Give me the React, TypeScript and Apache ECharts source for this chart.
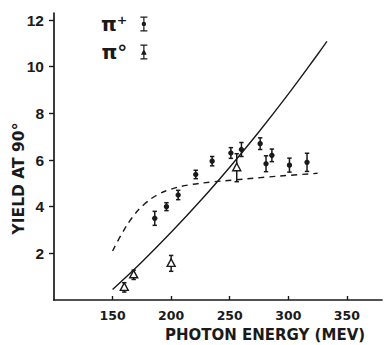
import React, { useEffect, useRef } from "react";
import * as echarts from "echarts";

// π+ data (photon energy MeV, yield, error)
const piPlusEnergy = [186, 196, 206, 221, 235, 251, 260, 276, 281, 286, 301, 316];
const piPlusYield = [3.5, 4.0, 4.5, 5.38, 5.95, 6.3, 6.45, 6.7, 5.84, 6.2, 5.78, 5.9];
const piPlusErr = [0.3, 0.17, 0.2, 0.18, 0.2, 0.23, 0.3, 0.25, 0.34, 0.27, 0.3, 0.39];

// π0 data
const piZeroEnergy = [160, 168, 200, 256];
const piZeroYield = [0.54, 1.08, 1.57, 5.67];
const piZeroErr = [0.2, 0.2, 0.34, 0.6];

// theory curves
const solidEnergy = [150, 175, 200, 225, 250, 275, 300, 325, 333];
const solidYield = [0.45, 1.63, 2.9, 4.25, 5.69, 7.21, 8.82, 10.52, 11.08];
const dashedEnergy = [150, 158, 167, 177, 188, 200, 215, 235, 255, 280, 300, 325];
const dashedYield = [2.1, 2.85, 3.55, 4.1, 4.5, 4.75, 4.93, 5.06, 5.15, 5.26, 5.34, 5.43];

const xTicks = [150, 200, 250, 300, 350];
const yTicks = [2, 4, 6, 8, 10, 12];

const INK = "#1a1a1a";

const plusIcon =
  "path://M0,0H7V1.3H0Z M2.9,0H4.1V15H2.9Z M0,13.7H7V15H0Z M1.3,7.5A2.2,2.2,0,1,1,5.7,7.5A2.2,2.2,0,1,1,1.3,7.5Z";
const zeroIcon =
  "path://M0,0H7V1.3H0Z M2.9,0H4.1V15H2.9Z M0,13.7H7V15H0Z M3.5,4.2L6.3,10.2H0.7Z";

function makeRender(kind: "circle" | "triangle") {
  return (_params: any, api: any) => {
    const x = api.value(0);
    const y = api.value(1);
    const e = api.value(2);
    const c = api.coord([x, y]);
    const t = api.coord([x, y + e]);
    const b = api.coord([x, y - e]);
    const cap = 2.2;
    const ls = { stroke: INK, lineWidth: 1.5 };
    const children: any[] = [
      { type: "line", shape: { x1: c[0], y1: t[1], x2: c[0], y2: b[1] }, style: ls },
      { type: "line", shape: { x1: c[0] - cap, y1: t[1], x2: c[0] + cap, y2: t[1] }, style: ls },
      { type: "line", shape: { x1: c[0] - cap, y1: b[1], x2: c[0] + cap, y2: b[1] }, style: ls },
    ];
    if (kind === "circle") {
      children.push({ type: "circle", shape: { cx: c[0], cy: c[1], r: 2.7 }, style: { fill: INK } });
    } else {
      children.push({
        type: "polygon",
        shape: {
          points: [
            [c[0], c[1] - 4.5],
            [c[0] - 4, c[1] + 3],
            [c[0] + 4, c[1] + 3],
          ],
        },
        style: { fill: "#ffffff", stroke: INK, lineWidth: 1.4 },
      });
    }
    return { type: "group", children };
  };
}

export default function App() {
  const ref = useRef<HTMLDivElement>(null);
  useEffect(() => {
    if (!ref.current) return;
    const chart = echarts.init(ref.current, null, { renderer: "svg" });
    const font = "DejaVu Sans";
    chart.setOption({
      animation: false,
      backgroundColor: "#ffffff",
      grid: { left: 54, right: 3, top: 13, bottom: 45, outerBoundsMode: "none", containLabel: false },
      legend: {
        orient: "vertical",
        left: 96,
        top: 9,
        align: "right",
        itemWidth: 7,
        itemHeight: 15,
        itemGap: 8,
        data: [
          { name: "π⁺", icon: plusIcon },
          { name: "π°", icon: zeroIcon },
        ],
        textStyle: { fontFamily: font, fontSize: 20, fontWeight: "bold", color: INK, padding: [0, 8, 0, 0] },
      },
      xAxis: {
        type: "value",
        min: 100,
        max: 380,
        name: "PHOTON ENERGY (MEV)",
        nameLocation: "middle",
        nameGap: 27,
        nameMoveOverlap: false,
        nameTextStyle: { fontFamily: font, fontSize: 15, fontWeight: "bold", color: INK, padding: [0, 0, 0, 94] },
        splitLine: { show: false },
        axisLine: { lineStyle: { color: INK, width: 1.7 } },
        axisTick: { inside: true, length: 4, customValues: xTicks, lineStyle: { color: INK, width: 1.4 } },
        axisLabel: { customValues: xTicks, margin: 9, fontFamily: font, fontWeight: "bold", fontSize: 12.5, color: INK },
      },
      yAxis: {
        type: "value",
        min: 0,
        max: 12.3,
        name: "YIELD AT 90°",
        nameLocation: "middle",
        nameGap: 27,
        nameMoveOverlap: false,
        nameRotate: 90,
        nameTextStyle: { fontFamily: font, fontSize: 15.5, fontWeight: "bold", color: INK, padding: [0, 44, 0, 0] },
        splitLine: { show: false },
        axisLine: { lineStyle: { color: INK, width: 1.7 } },
        axisTick: { length: 5, customValues: yTicks, lineStyle: { color: INK, width: 1.4 } },
        axisLabel: { customValues: yTicks, margin: 10, fontFamily: "Liberation Sans", fontWeight: "bold", fontSize: 15.5, color: INK },
      },
      series: [
        {
          name: "theory-solid",
          type: "line",
          data: solidEnergy.map((x, i) => [x, solidYield[i]]),
          smooth: 0.4,
          showSymbol: false,
          lineStyle: { color: INK, width: 1.4 },
          z: 2,
        },
        {
          name: "theory-dashed",
          type: "line",
          data: dashedEnergy.map((x, i) => [x, dashedYield[i]]),
          smooth: 0.4,
          showSymbol: false,
          lineStyle: { color: INK, width: 1.4, type: [6, 5] },
          z: 2,
        },
        {
          name: "π⁺",
          type: "custom",
          itemStyle: { color: INK },
          renderItem: makeRender("circle"),
          data: piPlusEnergy.map((x, i) => [x, piPlusYield[i], piPlusErr[i]]),
          encode: { x: 0, y: 1 },
          z: 3,
        },
        {
          name: "π°",
          type: "custom",
          itemStyle: { color: INK },
          renderItem: makeRender("triangle"),
          data: piZeroEnergy.map((x, i) => [x, piZeroYield[i], piZeroErr[i]]),
          encode: { x: 0, y: 1 },
          z: 3,
        },
      ],
    });
    return () => chart.dispose();
  }, []);
  return <div ref={ref} style={{ width: 385, height: 345, position: "absolute", left: 0, top: 0 }} />;
}
